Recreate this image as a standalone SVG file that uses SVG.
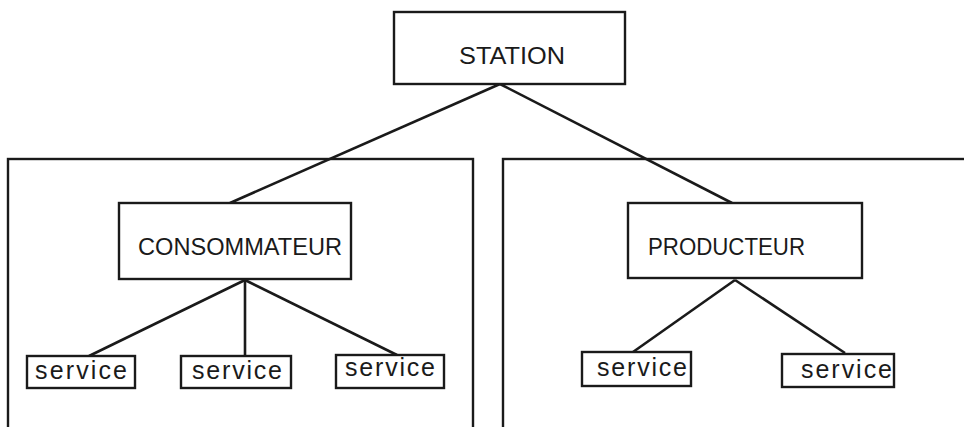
<svg xmlns="http://www.w3.org/2000/svg" width="964" height="427" viewBox="0 0 964 427">
<style>
.b{fill:none;stroke:#1a1a1a;stroke-width:2.4}
.n{fill:#fff;stroke:#1a1a1a;stroke-width:2.4}
.c{stroke:#1a1a1a;stroke-width:2.6;fill:none}
.t{font-family:"Liberation Sans",Arial,sans-serif;fill:#1a1a1a}
.L{font-size:23px}
.s{font-size:25px}
</style>
<rect width="964" height="427" fill="#fff"/>
<g id="consumer-area"><rect class="b" x="8" y="159" width="465" height="290"/></g>
<g id="producer-area"><rect class="b" x="503" y="159" width="480" height="290"/></g>
<g id="connectors">
<line class="c" x1="500" y1="84" x2="230" y2="203"/>
<line class="c" x1="500" y1="84" x2="732" y2="203"/>
<line class="c" x1="245" y1="280" x2="89" y2="356"/>
<line class="c" x1="245" y1="280" x2="245" y2="356"/>
<line class="c" x1="245" y1="280" x2="397" y2="355"/>
<line class="c" x1="735" y1="280" x2="633" y2="352"/>
<line class="c" x1="735" y1="280" x2="845" y2="353"/>
</g>
<g id="station"><rect class="n" x="394" y="12" width="231" height="72"/><text class="t L" x="459" y="64" textLength="106" lengthAdjust="spacingAndGlyphs" style="font-size:24px">STATION</text></g>
<g id="consommateur"><rect class="n" x="119" y="203" width="232" height="76"/><text class="t L" x="138" y="255" textLength="204" lengthAdjust="spacingAndGlyphs">CONSOMMATEUR</text></g>
<g id="producteur"><rect class="n" x="628" y="203" width="234" height="75"/><text class="t L" x="648" y="255" textLength="157" lengthAdjust="spacingAndGlyphs">PRODUCTEUR</text></g>
<g id="service-c1"><rect class="n" x="27" y="356" width="108" height="32"/><text class="t s" x="35" y="379" textLength="92">service</text></g>
<g id="service-c2"><rect class="n" x="181" y="356" width="110" height="32"/><text class="t s" x="192" y="379" textLength="90">service</text></g>
<g id="service-c3"><rect class="n" x="336" y="355" width="108" height="33"/><text class="t s" x="345" y="376" textLength="90">service</text></g>
<g id="service-p1"><rect class="n" x="582" y="352" width="109" height="34"/><text class="t s" x="597" y="376" textLength="90">service</text></g>
<g id="service-p2"><rect class="n" x="782" y="354" width="112" height="33"/><text class="t s" x="801" y="378" textLength="91">service</text></g>
</svg>
